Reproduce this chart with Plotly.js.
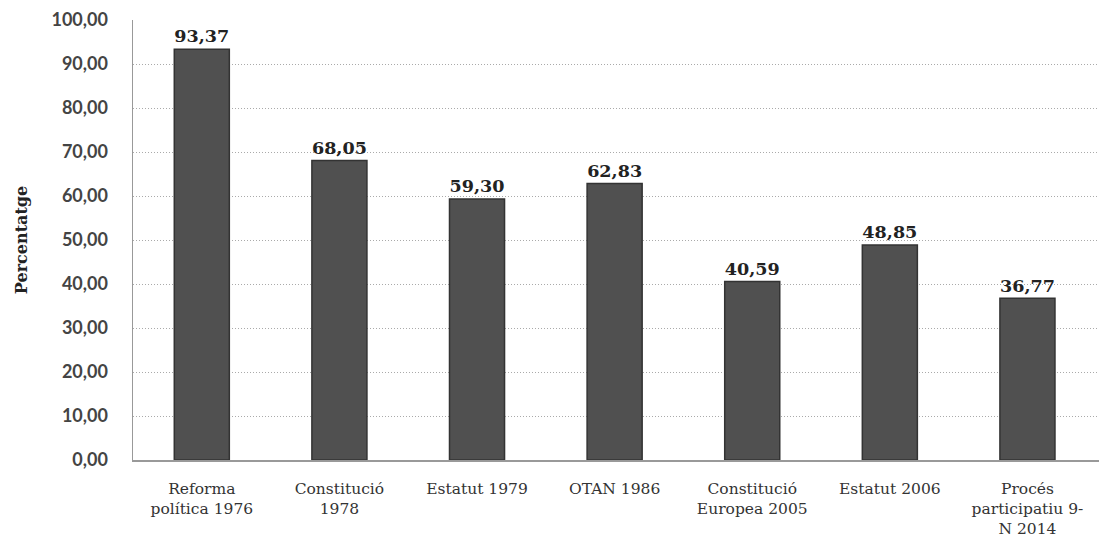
<!DOCTYPE html>
<html>
<head>
<meta charset="utf-8">
<script src="https://cdn.plot.ly/plotly-3.0.1.min.js"></script>
<style>html,body{margin:0;padding:0;background:#fff;}#chart{width:1099px;height:549px;}</style>
</head>
<body>
<div id="chart"></div>
<script>
const categories = ["Reforma<br>política 1976", "Constitució<br>1978", "Estatut 1979", "OTAN 1986", "Constitució<br>Europea 2005", "Estatut 2006", "Procés<br>participatiu 9-<br>N 2014"];
const values = [93.37, 68.05, 59.30, 62.83, 40.59, 48.85, 36.77];
const yTickVals = [0, 10, 20, 30, 40, 50, 60, 70, 80, 90, 100];

const trace = {
  type: 'bar',
  x: categories,
  y: values,
  marker: {color: '#505050', line: {color: '#333', width: 1.5}},
  text: values.map(v => v.toFixed(2).replace('.', ',')),
  textposition: 'outside',
  cliponaxis: false,
  textfont: {family: 'DejaVu Serif', size: 19, color: '#222', weight: 'bold'},
  hoverinfo: 'skip'
};

const layout = {
  width: 1099, height: 549,
  margin: {l: 133, r: 0, t: 20, b: 89},
  paper_bgcolor: '#fff', plot_bgcolor: '#fff',
  separators: ',.',
  bargap: 0.6,
  showlegend: false,
  xaxis: {
    type: 'category',
    range: [-0.5, 6.52],
    showline: true, linecolor: '#999', linewidth: 1.5,
    showgrid: false, ticks: '',
    ticklabelstandoff: 14,
    tickfont: {family: 'DejaVu Serif', size: 15.5, color: '#333'},
    automargin: false
  },
  yaxis: {
    range: [0, 100],
    tickvals: yTickVals,
    tickformat: '.2f',
    showline: true, linecolor: '#999', linewidth: 1.5,
    showgrid: true, gridcolor: '#aaa', griddash: '1px,2px', gridwidth: 1,
    zeroline: false, ticks: '',
    ticklabelstandoff: 20,
    tickfont: {family: 'Lato, "Open Sans", sans-serif', size: 18, color: '#444', weight: 'bold'},
    title: {text: 'Percentatge', font: {family: 'DejaVu Serif', size: 16, color: '#222', weight: 'bold'}, standoff: 20},
    automargin: false
  }
};

Plotly.newPlot('chart', [trace], layout, {displayModeBar: false, staticPlot: true});
</script>
</body>
</html>
